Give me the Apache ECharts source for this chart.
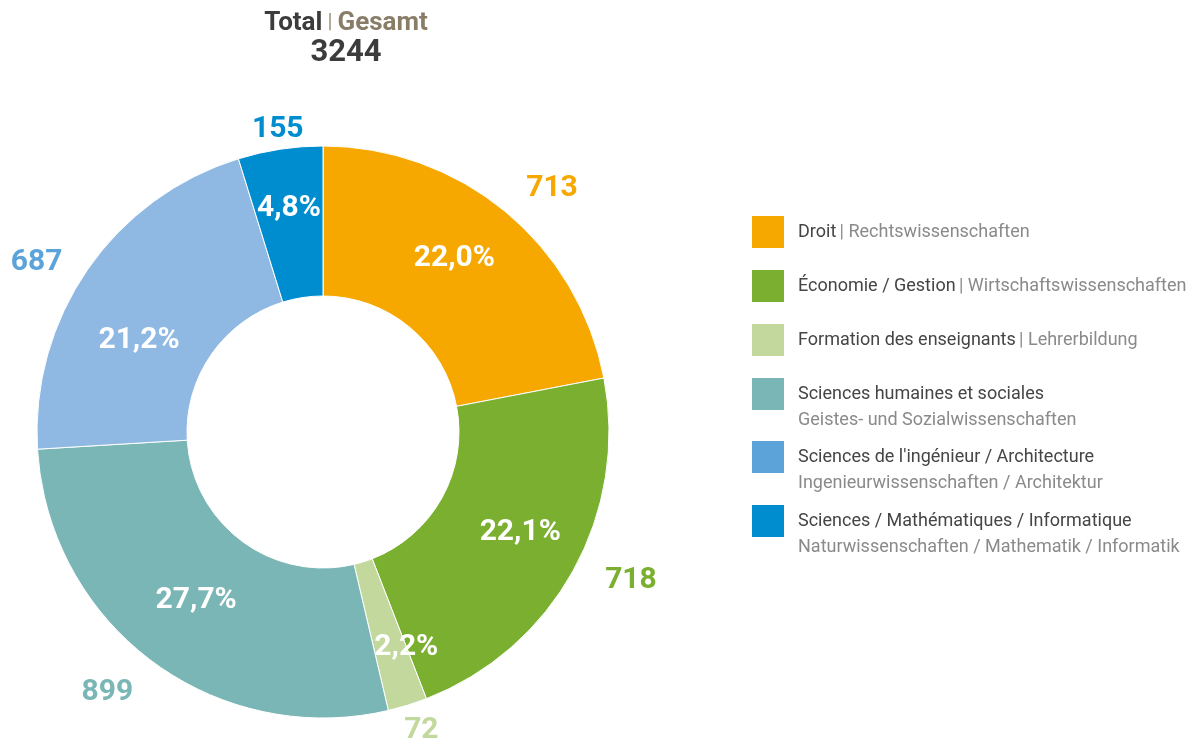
<!DOCTYPE html>
<html>
<head>
<meta charset="utf-8">
<script src="https://cdn.jsdelivr.net/npm/echarts@6/dist/echarts.min.js"></script>
<style>
  html, body { margin: 0; background: #fff; }
  #chart { width: 1192px; height: 742px; }
</style>
</head>
<body>
<div id="chart"></div>
<script>
// data
var categories = ["Droit", "Économie / Gestion", "Formation des enseignants", "Sciences humaines et sociales", "Sciences de l'ingénieur / Architecture", "Sciences / Mathématiques / Informatique"];
var categoriesDe = ["Rechtswissenschaften", "Wirtschaftswissenschaften", "Lehrerbildung", "Geistes- und Sozialwissenschaften", "Ingenieurwissenschaften / Architektur", "Naturwissenschaften / Mathematik / Informatik"];
var students = [713, 718, 72, 899, 687, 155];

// styles
var sliceColors = ["#f6a800", "#7aaf2f", "#c2d89c", "#7ab6b5", "#8fb8e3", "#008dcf"];
var swatchColors = ["#f6a800", "#7aaf2f", "#c2d89c", "#7ab6b5", "#5ca3da", "#008dcf"];
var valueColors = ["#f6a800", "#7aaf2f", "#c2d89c", "#7ab6b5", "#5ca3da", "#008dcf"];
var pctOffsets = [[-5, -9], [10, -3], [20, 11], [1, -3], [-8, 30], [-2, -12]];
var valueOffsets = [[15, 16], [14, -14], [-1, -22], [-15, -9], [-10, 22], [5, 30]];
var twoLineLegend = [false, false, false, true, true, true];
var legendTops = [214, 268, 322, 376, 439, 503];

var total = students.reduce(function (a, b) { return a + b; }, 0);
var FONT = "Roboto";

var chart = echarts.init(document.getElementById("chart"));

var legends = categories.map(function (name, i) {
  var two = twoLineLegend[i];
  return {
    orient: "vertical",
    left: 750,
    top: legendTops[i],
    padding: 0,
    itemWidth: 34,
    itemHeight: 34,
    icon: "rect",
    selectedMode: false,
    data: [{ name: name, itemStyle: { color: swatchColors[i] } }],
    formatter: function (n) {
      return two
        ? "{a|" + n + "}\n{b|" + categoriesDe[i] + "}"
        : "{a|" + n + "} {b|| " + categoriesDe[i] + "}";
    },
    textStyle: {
      padding: two ? [26, 0, 0, 8] : [0, 0, 0, 8],
      rich: {
        a: { color: "#454545", fontSize: 18, fontFamily: FONT, lineHeight: 26 },
        b: { color: "#8a8a8a", fontSize: 18, fontFamily: FONT, lineHeight: 26 }
      }
    }
  };
});

var option = {
  animation: false,
  backgroundColor: "#fff",
  title: {
    left: 346,
    top: 8,
    padding: 0,
    textAlign: "center",
    text: "{a|Total} {s||} {b|Gesamt}\n{n|" + total + "}",
    textStyle: {
      rich: {
        a: { color: "#3c3c3c", fontSize: 26, fontWeight: "bold", fontFamily: FONT, lineHeight: 30 },
        s: { color: "#a89c8a", fontSize: 20, fontFamily: FONT, lineHeight: 30 },
        b: { color: "#8a7d68", fontSize: 26, fontWeight: "bold", fontFamily: FONT, lineHeight: 30 },
        n: { color: "#3c3c3c", fontSize: 31, fontWeight: "bold", fontFamily: FONT, lineHeight: 30 }
      }
    }
  },
  legend: legends,
  series: [
    {
      name: "pct",
      type: "pie",
      center: [323, 432],
      radius: [136, 286],
      startAngle: 90,
      clockwise: true,
      avoidLabelOverlap: false,
      silent: true,
      itemStyle: { borderColor: "#fff", borderWidth: 1 },
      label: {
        position: "inside",
        color: "#fff",
        fontSize: 30,
        fontWeight: "bold",
        fontFamily: FONT,
        formatter: function (p) {
          return (p.value / total * 100).toFixed(1).replace(".", ",") + "%";
        }
      },
      labelLine: { show: false },
      emphasis: { disabled: true },
      data: students.map(function (v, i) {
        return {
          name: categories[i],
          value: v,
          itemStyle: { color: sliceColors[i] },
          label: { offset: pctOffsets[i] }
        };
      })
    },
    {
      name: "values",
      type: "pie",
      center: [323, 432],
      radius: [286, 380],
      startAngle: 90,
      clockwise: true,
      avoidLabelOverlap: false,
      silent: true,
      label: {
        position: "inside",
        fontSize: 30,
        fontWeight: "bold",
        fontFamily: FONT,
        formatter: "{c}"
      },
      labelLine: { show: false },
      emphasis: { disabled: true },
      data: students.map(function (v, i) {
        return {
          name: categories[i],
          value: v,
          itemStyle: { color: "rgba(0,0,0,0)" },
          label: { color: valueColors[i], offset: valueOffsets[i] }
        };
      })
    }
  ]
};

chart.setOption(option);
</script>
</body>
</html>
